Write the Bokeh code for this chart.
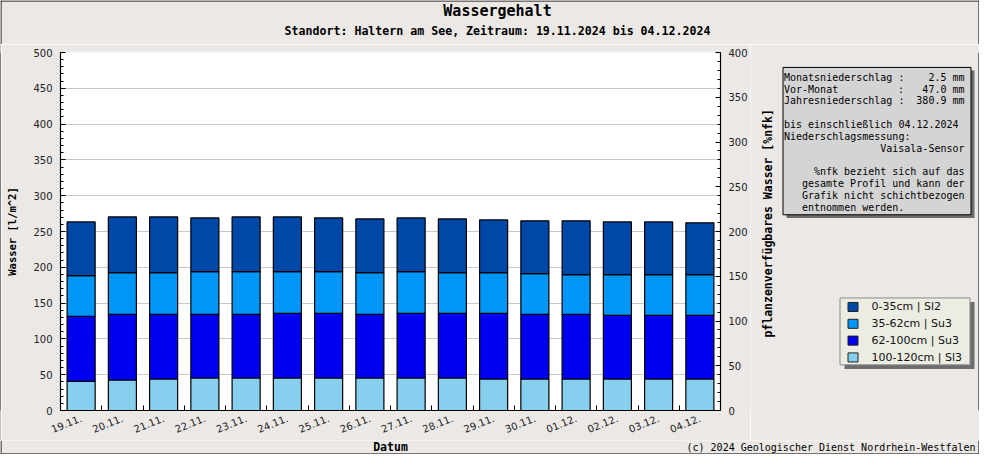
import math
from bokeh.plotting import figure
from bokeh.layouts import column, row
from bokeh.models import LinearAxis, Range1d, FixedTicker, ColumnDataSource
from bokeh.core.properties import value
from bokeh.embed import file_html
from bokeh.resources import INLINE

# ---------------- data ----------------
dates = ["19.11.", "20.11.", "21.11.", "22.11.", "23.11.", "24.11.", "25.11.", "26.11.",
         "27.11.", "28.11.", "29.11.", "30.11.", "01.12.", "02.12.", "03.12.", "04.12."]
layer_0_35 = [75.0, 77.8, 77.8, 75.0, 76.4, 76.4, 75.0, 75.0,
              75.0, 75.0, 73.6, 73.7, 75.1, 73.6, 73.6, 72.3]
layer_35_62 = [56.9, 58.3, 58.3, 59.7, 59.7, 58.4, 58.4, 58.3,
               58.4, 57.0, 57.0, 56.9, 55.5, 56.9, 56.9, 56.9]
layer_62_100 = [90.8, 91.7, 90.3, 88.9, 88.9, 90.2, 90.2, 88.9,
                90.2, 90.2, 91.6, 90.3, 90.3, 88.9, 88.9, 88.9]
layer_100_120 = [40.7, 42.6, 44.0, 45.4, 45.4, 45.4, 45.4, 45.4,
                 45.4, 45.4, 44.0, 44.0, 44.0, 44.0, 44.0, 44.0]
layer_names = ["0-35cm | Sl2", "35-62cm | Su3", "62-100cm | Su3", "100-120cm | Sl3"]
layer_colors = ["#0048a8", "#0096f8", "#0000f0", "#87cfee"]
left_ticks = list(range(0, 501, 50))
right_ticks = list(range(0, 401, 50))

BG = "#ebe8e6"
MONO = value("DejaVu Sans Mono")
SANS = value("DejaVu Sans")

W, H = 979, 454          # whole canvas
TOP_H = 44               # title strip
MAIN_H = 396             # chart row (8 + frame + 30)
BOT_H = H - TOP_H - MAIN_H
MAIN_W = 749
SIDE_X0 = 1 + MAIN_W     # 750
DY = -8                  # vertical shift of the side panel content vs. reference


def blank(w, h, x0, x1, ytop, ybot, bg=BG):
    """Helper figure whose data coordinates are the canvas pixel coordinates."""
    f = figure(width=w, height=h, output_backend="svg", toolbar_location=None,
               x_range=Range1d(x0, x1), y_range=Range1d(ybot, ytop),
               x_axis_type=None, y_axis_type=None, min_border=0)
    f.background_fill_color = bg
    f.border_fill_color = bg
    f.outline_line_color = None
    return f


def txt(f, x, y, s, size, align="left", bold=False, font=MONO, angle=0.0, color="black"):
    f.text(x=[x], y=[y], text=[s], text_font=font, text_font_size=value(size),
           text_align=align, text_baseline="middle", angle=angle,
           text_font_style="bold" if bold else "normal", text_color=color)


def vline(f, x, y0, y1):
    f.segment(x0=[x], y0=[y0], x1=[x], y1=[y1], line_color="black", line_width=1)


# ---------------- top (titles) ----------------
top = blank(W, TOP_H, 0, W, 0, TOP_H)
txt(top, 497, 10, "Wassergehalt", "15px", align="center", bold=True)
txt(top, 497, 30, "Standort: Haltern am See, Zeitraum: 19.11.2024 bis 04.12.2024", "11.6px",
    align="center", bold=True)
top.segment(x0=[0], y0=[0.5], x1=[W], y1=[0.5], line_color="black", line_width=1)
vline(top, 0.5, 0, TOP_H)
vline(top, W - 0.5, 0, TOP_H)

# ---------------- left edge line ----------------
edge = blank(1, MAIN_H, 0, 1, 0, MAIN_H, bg="black")

# ---------------- main chart ----------------
n = len(dates)
xs = list(range(n))
src = ColumnDataSource(dict(x=xs, d=dates, l0=layer_0_35, l1=layer_35_62,
                            l2=layer_62_100, l3=layer_100_120))

p = figure(width=MAIN_W, height=MAIN_H, output_backend="svg", toolbar_location=None,
           x_range=Range1d(-0.5, n - 0.5), y_range=Range1d(0, 500),
           min_border_left=59, min_border_right=30, min_border_top=8, min_border_bottom=30)
p.background_fill_color = "white"
p.border_fill_color = BG
p.outline_line_color = None
p.xgrid.visible = False
p.ygrid.ticker = FixedTicker(ticks=left_ticks)
p.ygrid.grid_line_color = "#c8c8c8"

p.vbar_stack(["l3", "l2", "l1", "l0"], x="x", width=0.68, source=src,
             fill_color=layer_colors[::-1], line_color="black", line_width=1.2)

xa = p.xaxis[0]
xa.ticker = FixedTicker(ticks=xs, minor_ticks=[i - 0.5 for i in range(n + 1)])
xa.major_label_overrides = {i: d for i, d in enumerate(dates)}
xa.major_tick_in = 0
xa.major_tick_out = 0
xa.minor_tick_in = 5
xa.minor_tick_out = 0
xa.major_label_orientation = 0.38
xa.major_label_standoff = 7

ya = p.yaxis[0]
ya.ticker = FixedTicker(ticks=left_ticks, minor_ticks=list(range(0, 501, 10)))
ya.axis_label = "Wasser [l/m^2]"
ya.axis_label_standoff = 12
ya.major_label_standoff = 8
ya.axis_label_text_font = "DejaVu Sans Mono"
ya.axis_label_text_font_style = "bold"
ya.axis_label_text_font_size = "10.5px"
ya.axis_label_text_color = "black"

p.extra_y_ranges = {"nfk": Range1d(0, 400)}
ra = LinearAxis(y_range_name="nfk",
                ticker=FixedTicker(ticks=right_ticks, minor_ticks=list(range(0, 401, 10))))
p.add_layout(ra, "right")
ra.major_label_standoff = 8

for ax in (xa, ya, ra):
    ax.axis_line_color = "black"
    ax.axis_line_width = 1.2
    ax.major_label_text_font = "DejaVu Sans"
    ax.major_label_text_font_size = "10px"
    ax.major_label_text_color = "#222222"
    ax.major_tick_line_color = "black"
    ax.minor_tick_line_color = "black"
for ax in (ya, ra):
    ax.major_tick_in = 5
    ax.major_tick_out = 0
    ax.minor_tick_in = 3
    ax.minor_tick_out = 0

# ---------------- right panel (axis title, info box, legend) ----------------
Y0 = TOP_H
side = blank(W - SIDE_X0, MAIN_H, SIDE_X0, W, Y0, Y0 + MAIN_H)
vline(side, W - 0.5, Y0, Y0 + MAIN_H)
txt(side, 767, 241 + DY, "pflanzenverfügbares Wasser [%nfk]", "11.5px", align="center",
    bold=True, angle=math.pi / 2)

# info box with shadow
side.quad(left=[786], right=[974], top=[72 + DY], bottom=[235 + DY],
          fill_color="#6c6c6c", line_color=None)
side.quad(left=[782.5], right=[970.5], top=[68.5 + DY], bottom=[231.5 + DY],
          fill_color="#d4d4d4", line_color="black", line_width=1)
y0, dy = 79.3 + DY, 13.1
info_left = [("Monatsniederschlag :", 0), ("Vor-Monat", 1), ("Jahresniederschlag :", 2),
             ("bis einschließlich 04.12.2024", 4), ("Niederschlagsmessung:", 5)]
info_right = [("2.5 mm", 0), ("47.0 mm", 1), ("380.9 mm", 2), ("Vaisala-Sensor", 6),
              ("%nfk bezieht sich auf das", 8), ("gesamte Profil und kann der", 9),
              ("Grafik nicht schichtbezogen", 10)]
for s, k in info_left:
    txt(side, 783.5, y0 + k * dy, s, "10px")
txt(side, 897.5, y0 + dy, ":", "10px")
for s, k in info_right:
    txt(side, 964, y0 + k * dy, s, "10px", align="right")
txt(side, 801.5, y0 + 11 * dy, "entnommen werden.", "10px")

# legend with shadow
side.quad(left=[844], right=[974], top=[328 + DY], bottom=[402 + DY],
          fill_color="#6c6c6c", line_color=None)
side.quad(left=[839.5], right=[969.5], top=[323.5 + DY], bottom=[397.5 + DY],
          fill_color="#ecece2", line_color="#8c8c8c", line_width=1)
leg_y = [333.5 + DY + 18.6 * i for i in range(len(layer_names))]
side.quad(left=[847.5] * 4, right=[857.5] * 4, top=[y - 5 for y in leg_y],
          bottom=[y + 5 for y in leg_y], fill_color=layer_colors, line_color="#222222",
          line_width=1)
side.text(x=[871] * 4, y=leg_y, text=layer_names, text_font=SANS,
          text_font_size=value("11px"), text_baseline="middle", text_color="#111111")

# ---------------- bottom strip ----------------
B0 = TOP_H + MAIN_H
bot = blank(W, BOT_H, 0, W, B0, H)
txt(bot, 390, B0 + 6.5, "Datum", "11.5px", align="center", bold=True)
txt(bot, 975, B0 + 6.5, "(c) 2024 Geologischer Dienst Nordrhein-Westfalen", "10px",
    align="right")
bot.segment(x0=[0], y0=[H - 0.5], x1=[W], y1=[H - 0.5], line_color="black", line_width=1)
vline(bot, 0.5, B0, H)
vline(bot, W - 0.5, B0, H)

layout = column(top, row(edge, p, side, spacing=0), bot, spacing=0)
open("out.html", "w").write(file_html(layout, INLINE))
